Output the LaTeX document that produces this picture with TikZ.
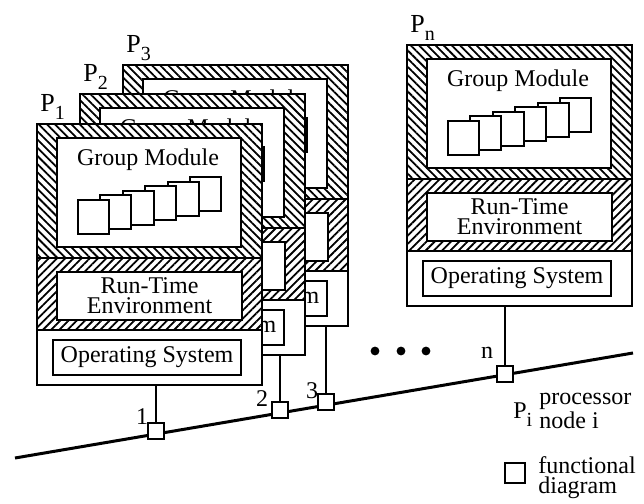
\documentclass[tikz,border=0pt]{standalone}
\usepackage{fontspec}
\setmainfont{Liberation Serif}
\usetikzlibrary{patterns.meta, positioning}

\newcommand{\psub}[1]{\raisebox{-4pt}{\fontsize{10}{10}\selectfont #1}}

\begin{document}
\begin{tikzpicture}[
    x=0.5pt, y=-0.5pt,
    every node/.style={font=\fontsize{12}{10}\selectfont, inner sep=0pt},
    layer/.style={draw=black, line width=1.2pt, anchor=north west, minimum width=112.5pt},
    gm layer/.style={layer, minimum height=67pt, preaction={fill=white},
        pattern={Lines[angle=-45, distance=2.9pt, line width=0.9pt]}},
    rte layer/.style={layer, minimum height=36pt, preaction={fill=white},
        pattern={Lines[angle=45, distance=2.9pt, line width=0.9pt]}},
    os layer/.style={layer, minimum height=27.5pt, fill=white},
    inner box/.style={draw=black, fill=white, line width=1pt, anchor=north west},
    tile/.style={draw=black, fill=white, line width=1pt, anchor=north west,
        minimum width=15.5pt, minimum height=17pt},
    station/.style={draw=black, fill=white, line width=1pt, minimum size=8pt},
    stem/.style={line width=1.2pt},
    bus/.style={line width=1.5pt},
    plabel/.style={anchor=base west, font=\fontsize{13}{13}\selectfont},
    pics/processor/.style={code={
        % layers
        \node[gm layer] (-gm) at (0,0) {};
        \node[rte layer] (-rte) at (0,134) {};
        \node[os layer] (-os) at (0,206) {};
        % group module with its tiles
        \node[inner box, minimum width=92pt, minimum height=54.5pt] (-gmbox) at (20,14) {};
        \node[anchor=base] (-gmtext) at (112,42) {Group Module};
        \foreach \i in {5,...,0} {
            \node[tile] (-t\i) at ({41+22.4*\i},{76-4.6*\i}) {};
        }
        % run-time environment and operating system
        \node[inner box, minimum width=92.5pt, minimum height=24pt, align=center]
            (-rtebox) at (20,148) {Run-Time\\Environment};
        \node[inner box, minimum width=94pt, minimum height=17.5pt]
            (-osbox) at (16,216) {Operating System};
        \node[plabel] (-name) at (4,-12) {P\psub{#1}};
    }}
]
\useasboundingbox (0,0) rectangle (644,504);

% --- processor nodes, back to front ---
\pic (p3) at (122,64) {processor=3};
\pic (p2) at (79,93) {processor=2};
\pic (p1) at (36,123) {processor=1};
\pic (pn) at (406,44) {processor=n};

% --- interconnection line ---
\coordinate (busL) at (15,458);
\coordinate (busR) at (633,353);
\draw[bus] (busL) -- (busR);

% --- stations on the line ---
\node[station] (s1) at (156,431) {};
\node[station] (s2) at (280,410) {};
\node[station] (s3) at (326,402) {};
\node[station] (sn) at (505,374) {};

\draw[stem] (p1-os.south -| s1) -- (s1);
\draw[stem] (p2-os.south -| s2) -- (s2);
\draw[stem] (p3-os.south -| s3) -- (s3);
\draw[stem] (pn-os.south -| sn) -- (sn);

\node (l1) at (142,417) {1};
\node (l2) at (262,399) {2};
\node (l3) at (312,391) {3};
\node (ln) at (487,353) {n};

% --- dots ---
\foreach \x in {375,401,426} {
    \fill (\x,351) circle (2.2pt);
}

% --- legend ---
\node[plabel, font=\fontsize{12}{12}\selectfont] (legP) at (513,418) {P\psub{i}};
\node[anchor=base west, align=left] (legPtxt) at (539,428) {processor\\node i};
\node[station, minimum size=10pt] (legS) at (515,473) {};
\node[anchor=base west, align=left] (legStxt) at (538,493) {functional\\diagram};

\end{tikzpicture}
\end{document}
